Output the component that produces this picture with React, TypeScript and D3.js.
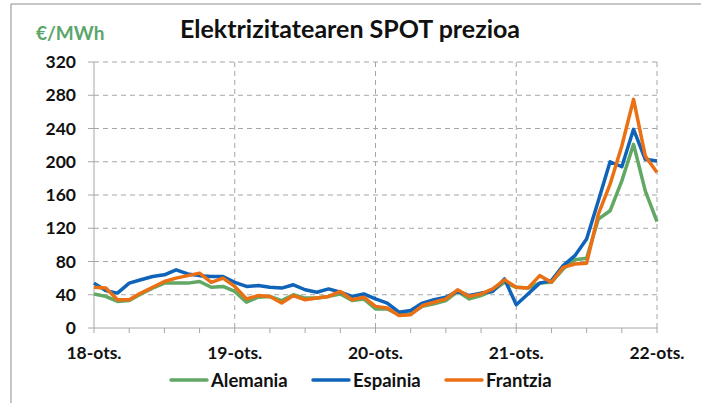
import React from "react";
import * as d3 from "d3";

const dayLabels = ["18-ots.", "19-ots.", "20-ots.", "21-ots.", "22-ots."];
const yTicks = [0, 40, 80, 120, 160, 200, 240, 280, 320];
const seriesNames = ["Alemania", "Espainia", "Frantzia"];
const seriesColors = ["#62a865", "#0f63b8", "#eb6f13"];

// values every 2 hours, 18-ots 00:00 .. 22-ots 00:00
const alemania = [41, 38, 32, 33, 41, 48, 54, 54, 54, 56, 49, 50, 44, 31, 37, 38, 33, 40, 36, 36, 38, 41, 33, 35, 23, 23, 16, 17, 26, 29, 33, 44, 35, 39, 45, 55, 49, 48, 54, 55, 71, 82, 84, 131, 141, 177, 221, 165, 128];
const espainia = [54, 45, 42, 54, 58, 62, 64, 70, 65, 63, 62, 62, 55, 50, 51, 49, 48, 52, 46, 43, 47, 43, 38, 41, 35, 30, 19, 21, 30, 34, 37, 44, 39, 42, 44, 59, 28, 41, 54, 57, 75, 87, 107, 153, 200, 194, 239, 203, 201];
const frantzia = [49, 48, 34, 34, 42, 49, 56, 60, 63, 66, 55, 60, 50, 35, 39, 38, 30, 39, 34, 36, 38, 44, 34, 37, 26, 24, 15, 16, 27, 31, 35, 46, 38, 41, 47, 58, 49, 48, 63, 55, 73, 77, 78, 137, 173, 219, 275, 207, 187];

const seriesData = [alemania, espainia, frantzia];

export default function App() {
  const W = 701, H = 403;
  const left = 94, right = 657, top = 62, bottom = 328;
  const x = d3.scaleLinear().domain([0, 48]).range([left, right]);
  const y = d3.scaleLinear().domain([0, 320]).range([bottom, top]);
  const line = d3.line<number>().x((_, i) => x(i)).y((d) => y(d));
  const font = "Lato, 'Open Sans', sans-serif";
  const grid = "#a6a6a6";
  const minorTicks = d3.range(0, 49, 3);
  const legendX = [171, 313, 446];

  return (
    <svg width={W} height={H} style={{ position: "absolute", left: 0, top: 0, background: "#fff" }} fontFamily={font}>
      <rect x={0} y={0} width={W} height={H} fill="#fff" />
      <line x1={11} y1={4} x2={W} y2={4} stroke="#8c8c8c" strokeWidth={1} />
      <line x1={11} y1={4} x2={11} y2={H} stroke="#8c8c8c" strokeWidth={1} />

      <text x={350} y={38} textAnchor="middle" fontSize={25} fontWeight="bold" fill="#111">Elektrizitatearen SPOT prezioa</text>
      <text x={36} y={40} fontSize={19} fontWeight="bold" fill="#5aa66a">€/MWh</text>

      {yTicks.filter((t) => t > 0).map((t) => (
        <line key={"h" + t} x1={left} x2={right} y1={y(t)} y2={y(t)} stroke={grid} strokeDasharray="5,4" strokeWidth={1} />
      ))}
      {[1, 2, 3, 4].map((d) => (
        <line key={"v" + d} x1={x(d * 12)} x2={x(d * 12)} y1={top} y2={bottom} stroke={grid} strokeDasharray="5,4" strokeWidth={1} />
      ))}

      <line x1={left} x2={left} y1={top} y2={bottom} stroke="#a6a6a6" strokeWidth={1} />
      <line x1={left} x2={right} y1={bottom} y2={bottom} stroke="#a6a6a6" strokeWidth={1} />
      {yTicks.map((t) => (
        <g key={"y" + t}>
          <line x1={left - 6} x2={left} y1={y(t)} y2={y(t)} stroke="#a6a6a6" />
          <text x={76} y={y(t) + 6} textAnchor="end" fontSize={17.5} fontWeight="bold" fill="#111">{t}</text>
        </g>
      ))}
      {minorTicks.map((i) => (
        <line key={"m" + i} x1={x(i)} x2={x(i)} y1={bottom} y2={bottom + 5} stroke="#a6a6a6" />
      ))}
      {dayLabels.map((l, d) => (
        <text key={l} x={x(d * 12)} y={359} textAnchor="middle" fontSize={17.5} fontWeight="bold" fill="#111">{l}</text>
      ))}

      {seriesData.map((s, k) => (
        <path key={seriesNames[k]} d={line(s) || ""} fill="none" stroke={seriesColors[k]} strokeWidth={3.5} strokeLinejoin="round" />
      ))}

      {seriesNames.map((n, k) => (
        <g key={"lg" + n}>
          <line x1={legendX[k]} x2={legendX[k] + 36} y1={380} y2={380} stroke={seriesColors[k]} strokeWidth={3.5} strokeLinecap="round" />
          <text x={legendX[k] + 40} y={386.5} fontSize={18.5} fontWeight="bold" fill="#111">{n}</text>
        </g>
      ))}
    </svg>
  );
}
